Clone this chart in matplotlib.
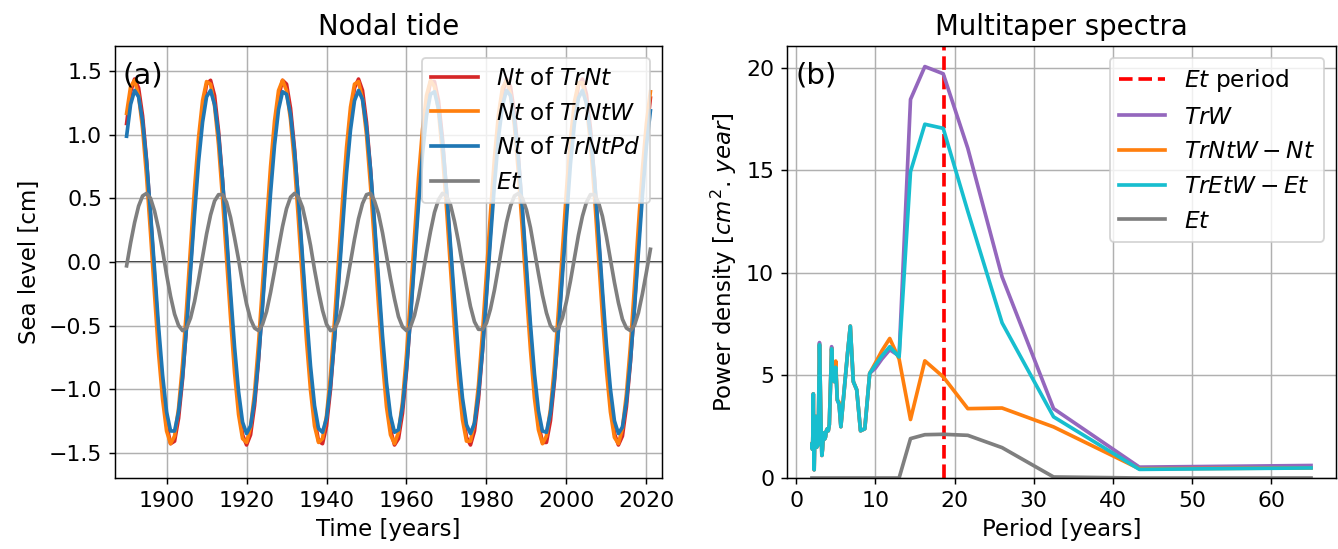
import matplotlib
matplotlib.use("Agg")
import matplotlib.pyplot as plt

# ---------------- data: panel (a) ----------------
years = list(range(1890, 2022))

nt_trnt = [1.09, 1.34, 1.44, 1.37, 1.15, 0.80, 0.36, -0.12, -0.59, -0.99,
           -1.28, -1.43, -1.41, -1.23, -0.92, -0.50, -0.03, 0.45, 0.88, 1.21,
           1.40, 1.43, 1.31, 1.03, 0.64, 0.18, -0.31, -0.76, -1.12, -1.36,
           -1.44, -1.36, -1.13, -0.77, -0.32, 0.16, 0.63, 1.02, 1.30, 1.43,
           1.40, 1.21, 0.89, 0.46, -0.01, -0.49, -0.91, -1.23, -1.41, -1.43,
           -1.29, -1.00, -0.60, -0.14, 0.35, 0.79, 1.15, 1.37, 1.44, 1.35,
           1.10, 0.73, 0.28, -0.20, -0.66, -1.05, -1.32, -1.44, -1.39, -1.19,
           -0.86, -0.43, 0.06, 0.53, 0.94, 1.25, 1.42, 1.42, 1.27, 0.97,
           0.56, 0.09, -0.39, -0.83, -1.17, -1.38, -1.44, -1.33, -1.08, -0.70,
           -0.24, 0.24, 0.70, 1.08, 1.33, 1.44, 1.38, 1.17, 0.82, 0.38,
           -0.10, -0.56, -0.97, -1.27, -1.42, -1.42, -1.25, -0.94, -0.53, -0.05,
           0.43, 0.86, 1.19, 1.39, 1.44, 1.32, 1.05, 0.66, 0.20, -0.28,
           -0.74, -1.10, -1.35, -1.44, -1.37, -1.14, -0.79, -0.35, 0.14, 0.60,
           1.00, 1.29]

nt_trntw = [1.17, 1.38, 1.43, 1.31, 1.05, 0.67, 0.22, -0.26, -0.72, -1.08,
            -1.33, -1.43, -1.37, -1.15, -0.80, -0.36, 0.12, 0.58, 0.98, 1.27,
            1.42, 1.40, 1.23, 0.92, 0.50, 0.03, -0.44, -0.87, -1.20, -1.39,
            -1.42, -1.30, -1.03, -0.64, -0.18, 0.30, 0.75, 1.11, 1.35, 1.43,
            1.35, 1.12, 0.77, 0.32, -0.16, -0.62, -1.01, -1.29, -1.42, -1.39,
            -1.21, -0.89, -0.46, 0.01, 0.48, 0.90, 1.22, 1.40, 1.42, 1.28,
            1.00, 0.60, 0.14, -0.34, -0.78, -1.14, -1.36, -1.43, -1.34, -1.10,
            -0.73, -0.28, 0.20, 0.66, 1.04, 1.31, 1.43, 1.38, 1.19, 0.85,
            0.43, -0.05, -0.52, -0.93, -1.24, -1.41, -1.41, -1.26, -0.97, -0.56,
            -0.09, 0.38, 0.82, 1.16, 1.37, 1.43, 1.32, 1.07, 0.70, 0.24,
            -0.24, -0.69, -1.07, -1.32, -1.43, -1.37, -1.16, -0.82, -0.38, 0.09,
            0.56, 0.96, 1.26, 1.41, 1.41, 1.24, 0.94, 0.53, 0.05, -0.42,
            -0.85, -1.18, -1.38, -1.43, -1.31, -1.04, -0.66, -0.20, 0.28, 0.73,
            1.09, 1.34]

nt_trntpd = [0.99, 1.24, 1.35, 1.30, 1.11, 0.79, 0.38, -0.07, -0.51, -0.89,
             -1.18, -1.33, -1.33, -1.18, -0.90, -0.51, -0.07, 0.38, 0.79, 1.10,
             1.30, 1.35, 1.24, 1.00, 0.64, 0.21, -0.24, -0.67, -1.02, -1.26,
             -1.35, -1.29, -1.09, -0.76, -0.35, 0.10, 0.54, 0.92, 1.20, 1.34,
             1.32, 1.16, 0.87, 0.48, 0.04, -0.41, -0.82, -1.13, -1.31, -1.34,
             -1.23, -0.97, -0.61, -0.17, 0.28, 0.70, 1.04, 1.27, 1.35, 1.28,
             1.06, 0.73, 0.31, -0.14, -0.58, -0.95, -1.21, -1.34, -1.32, -1.14,
             -0.84, -0.44, 0.00, 0.45, 0.85, 1.15, 1.32, 1.34, 1.21, 0.94,
             0.57, 0.13, -0.32, -0.74, -1.07, -1.28, -1.35, -1.27, -1.04, -0.70,
             -0.27, 0.18, 0.61, 0.98, 1.23, 1.35, 1.31, 1.12, 0.81, 0.41,
             -0.04, -0.49, -0.88, -1.17, -1.33, -1.34, -1.19, -0.92, -0.54, -0.10,
             0.35, 0.77, 1.09, 1.29, 1.35, 1.25, 1.01, 0.66, 0.23, -0.22,
             -0.65, -1.00, -1.25, -1.35, -1.30, -1.10, -0.78, -0.37, 0.08, 0.52,
             0.91, 1.19]

et = [-0.03, 0.15, 0.31, 0.44, 0.52, 0.54, 0.50, 0.40, 0.26, 0.09,
      -0.10, -0.27, -0.41, -0.50, -0.54, -0.52, -0.44, -0.31, -0.14, 0.04,
      0.22, 0.37, 0.48, 0.53, 0.53, 0.47, 0.35, 0.19, 0.02, -0.17,
      -0.33, -0.45, -0.52, -0.54, -0.49, -0.39, -0.24, -0.07, 0.11, 0.28,
      0.42, 0.51, 0.54, 0.51, 0.43, 0.29, 0.13, -0.06, -0.23, -0.38,
      -0.49, -0.54, -0.53, -0.46, -0.34, -0.18, 0.00, 0.18, 0.34, 0.46,
      0.53, 0.54, 0.48, 0.38, 0.23, 0.05, -0.13, -0.29, -0.43, -0.51,
      -0.54, -0.51, -0.42, -0.28, -0.11, 0.07, 0.24, 0.39, 0.49, 0.54,
      0.52, 0.45, 0.32, 0.16, -0.02, -0.19, -0.35, -0.47, -0.53, -0.53,
      -0.48, -0.37, -0.22, -0.04, 0.14, 0.31, 0.44, 0.52, 0.54, 0.50,
      0.41, 0.27, 0.09, -0.09, -0.26, -0.40, -0.50, -0.54, -0.52, -0.44,
      -0.31, -0.15, 0.03, 0.21, 0.36, 0.47, 0.53, 0.53, 0.47, 0.36,
      0.20, 0.02, -0.16, -0.32, -0.45, -0.52, -0.54, -0.50, -0.40, -0.25,
      -0.08, 0.10]

# ---------------- data: panel (b) ----------------
periods = [65.0, 43.33, 32.5, 26.0, 21.67, 18.57, 16.25, 14.44, 13.0, 11.82,
           10.83, 10.0, 9.29, 8.67, 8.13, 7.65, 7.22, 6.84, 6.5, 6.19,
           5.91, 5.65, 5.42, 5.2, 5.0, 4.81, 4.64, 4.48, 4.33, 4.19,
           4.06, 3.94, 3.82, 3.71, 3.61, 3.51, 3.42, 3.33, 3.25, 3.17,
           3.1, 3.02, 2.95, 2.89, 2.83, 2.77, 2.71, 2.65, 2.6, 2.55,
           2.5, 2.45, 2.41, 2.36, 2.32, 2.28, 2.24, 2.2, 2.17, 2.13,
           2.1, 2.06, 2.03, 2.0]

psd_trw = [0.61, 0.53, 3.38, 9.8, 16.07, 19.7, 20.05, 18.45, 5.95, 6.25,
           5.8, 5.35, 5.1, 2.4, 2.3, 4.3, 4.7, 7.4, 6.1, 4.8,
           3.6, 2.5, 3.6, 3.8, 5.4, 4.7, 4.8, 6.4, 4.4, 2.6,
           2.3, 2.4, 2.3, 2.0, 1.9, 2.2, 2.0, 1.4, 1.1, 2.2,
           3.4, 5.2, 6.6, 4.8, 3.0, 1.6, 2.0, 2.9, 1.5, 2.1,
           3.0, 2.3, 1.8, 2.6, 1.3, 0.4, 1.2, 2.8, 4.1, 2.5,
           1.8, 1.4, 1.7, 1.5]

psd_trntw_nt = [0.49, 0.45, 2.49, 3.41, 3.38, 4.93, 5.71, 2.85, 5.8, 6.8,
                6.2, 5.6, 5.1, 2.4, 2.3, 4.3, 4.7, 7.4, 6.1, 4.8,
                3.6, 2.5, 3.7, 3.8, 5.7, 4.7, 4.8, 6.3, 4.4, 2.6,
                2.3, 2.4, 2.3, 2.0, 1.9, 2.2, 2.0, 1.4, 1.1, 2.2,
                3.4, 5.2, 6.5, 4.8, 3.0, 1.6, 2.0, 2.9, 1.5, 2.1,
                3.0, 2.3, 1.8, 2.6, 1.3, 0.4, 1.2, 2.8, 4.1, 2.5,
                1.8, 1.4, 1.7, 1.5]

psd_tretw_et = [0.49, 0.42, 2.98, 7.56, 13.0, 17.04, 17.24, 14.93, 5.9, 6.4,
                5.95, 5.5, 5.1, 2.4, 2.3, 4.3, 4.7, 7.4, 6.1, 4.8,
                3.6, 2.5, 3.6, 3.8, 5.4, 4.7, 4.8, 6.3, 4.4, 2.6,
                2.3, 2.4, 2.3, 2.0, 1.9, 2.2, 2.0, 1.4, 1.1, 2.2,
                3.4, 5.2, 6.5, 4.8, 3.0, 1.6, 2.0, 2.9, 1.5, 2.1,
                3.0, 2.3, 1.8, 2.6, 1.3, 0.4, 1.2, 2.8, 4.1, 2.5,
                1.8, 1.4, 1.7, 1.5]

psd_et = [0.0, 0.0, 0.05, 1.48, 2.08, 2.13, 2.11, 1.92, 0.0, 0.0,
          0.0, 0.0, 0.0, 0.0, 0.0, 0.0, 0.0, 0.0, 0.0, 0.0,
          0.0, 0.0, 0.0, 0.0, 0.0, 0.0, 0.0, 0.0, 0.0, 0.0,
          0.0, 0.0, 0.0, 0.0, 0.0, 0.0, 0.0, 0.0, 0.0, 0.0,
          0.0, 0.0, 0.0, 0.0, 0.0, 0.0, 0.0, 0.0, 0.0, 0.0,
          0.0, 0.0, 0.0, 0.0, 0.0, 0.0, 0.0, 0.0, 0.0, 0.0,
          0.0, 0.0, 0.0, 0.0]

et_period = 18.61

# ---------------- figure ----------------
DPI = 132
fig = plt.figure(figsize=(1338 / DPI, 549 / DPI), dpi=DPI)
plt.rcParams['font.size'] = 12

W, H = 1338.0, 549.0
ax1 = fig.add_axes([115 / W, 1 - 478 / H, (662 - 115) / W, (478 - 46) / H])
ax2 = fig.add_axes([787 / W, 1 - 478 / H, (1336 - 787) / W, (478 - 46) / H])

lw = 2.0
TITLE_FS = 15
LABEL_FS = 12.5
LEG_FS = 12.7
TICK_FS = 12

# panel (a)
ax1.plot(years, nt_trnt, color='#d62728', lw=lw, label='$Nt$ of $TrNt$')
ax1.plot(years, nt_trntw, color='#ff7f0e', lw=lw, label='$Nt$ of $TrNtW$')
ax1.plot(years, nt_trntpd, color='#1f77b4', lw=lw, label='$Nt$ of $TrNtPd$')
ax1.plot(years, et, color='#7f7f7f', lw=lw, label='$Et$')
ax1.axhline(0, color='k', lw=0.9, zorder=1.5)
ax1.set_xlim(1887.1, 2023.9)
ax1.set_ylim(-1.70, 1.70)
ax1.set_xticks([1900, 1920, 1940, 1960, 1980, 2000, 2020])
ax1.set_yticks([-1.5, -1.0, -0.5, 0.0, 0.5, 1.0, 1.5])
ax1.grid(True)
ax1.set_xlabel('Time [years]', fontsize=LABEL_FS)
ax1.set_ylabel('Sea level [cm]', fontsize=LABEL_FS)
ax1.set_title('Nodal tide', fontsize=TITLE_FS)
ax1.legend(loc='upper right', fontsize=LEG_FS)
ax1.text(0.013, 0.965, '(a)', transform=ax1.transAxes, fontsize=16,
         va='top', ha='left')
ax1.tick_params(labelsize=TICK_FS)

# panel (b)
ax2.axvline(et_period, color='r', ls='--', lw=lw, label='$Et$ period')
ax2.plot(periods, psd_trw, color='#9467bd', lw=lw, label='$TrW$')
ax2.plot(periods, psd_trntw_nt, color='#ff7f0e', lw=lw, label='$TrNtW-Nt$')
ax2.plot(periods, psd_tretw_et, color='#17becf', lw=lw, label='$TrEtW-Et$')
ax2.plot(periods, psd_et, color='#7f7f7f', lw=lw, label='$Et$')
ax2.set_ylim(bottom=0)
ax2.set_xticks([0, 10, 20, 30, 40, 50, 60])
ax2.set_yticks([0, 5, 10, 15, 20])
ax2.grid(True)
ax2.set_xlabel('Period [years]', fontsize=LABEL_FS)
ax2.set_ylabel(r'Power density [$cm^2.\,year$]', fontsize=LABEL_FS)
ax2.set_title('Multitaper spectra', fontsize=TITLE_FS)
ax2.legend(loc='upper right', fontsize=LEG_FS)
ax2.text(0.015, 0.965, '(b)', transform=ax2.transAxes, fontsize=16,
         va='top', ha='left')
ax2.tick_params(labelsize=TICK_FS)

fig.savefig('out.png', dpi=DPI)
